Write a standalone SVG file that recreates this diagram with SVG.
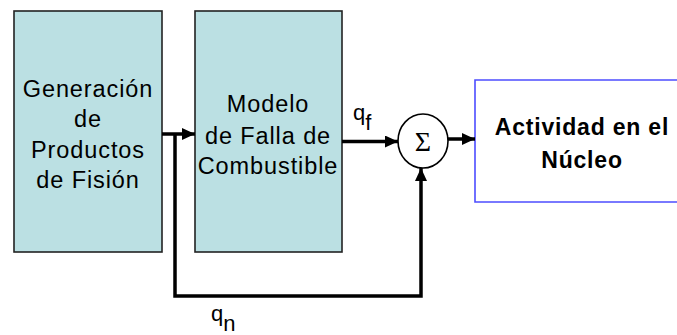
<svg xmlns="http://www.w3.org/2000/svg" width="677" height="335" viewBox="0 0 677 335">
<style>
.blk{fill:#bbe0e3;stroke:#222;stroke-width:1.6}
.t{font-family:"Liberation Sans",Arial,sans-serif;font-size:23.5px;fill:#000;text-anchor:middle;letter-spacing:0.9px}
.tb{font-family:"Liberation Sans",Arial,sans-serif;font-size:23px;font-weight:bold;fill:#000;text-anchor:middle;letter-spacing:0.8px}
.lbl{font-family:"Liberation Sans",Arial,sans-serif;font-size:22px;fill:#000}
.c{fill:none;stroke:#000;stroke-width:3.5}
</style>
<defs>
<marker id="ah" markerUnits="userSpaceOnUse" markerWidth="13" markerHeight="12" refX="13" refY="6" orient="auto">
<path d="M0,0 L13,6 L0,12 Z" fill="#000"/>
</marker>
</defs>
<rect width="677" height="335" fill="#fff"/>
<g id="gen">
<rect class="blk" x="14" y="11" width="148" height="241"/>
<text class="t" x="88" y="97">Generación</text>
<text class="t" x="88" y="127">de</text>
<text class="t" x="88" y="158">Productos</text>
<text class="t" x="88" y="188">de Fisión</text>
</g>
<g id="modelo">
<rect class="blk" x="195" y="11" width="147" height="241"/>
<text class="t" x="268" y="112">Modelo</text>
<text class="t" x="268" y="144">de Falla de</text>
<text class="t" x="268" y="174">Combustible</text>
</g>
<g id="suma">
<ellipse cx="423" cy="141" rx="25" ry="27" fill="#fff" stroke="#000" stroke-width="1.6"/>
<text x="423" y="151" font-family="'Liberation Serif','Times New Roman',serif" font-size="28" text-anchor="middle">Σ</text>
</g>
<g id="nucleo">
<path d="M680,80 H475 V202 H680" fill="#fff" stroke="#4d4dff" stroke-width="1.6"/>
<text class="tb" x="582" y="135">Actividad en el</text>
<text class="tb" x="582" y="168">Núcleo</text>
</g>
<g id="connectors">
<line class="c" x1="162" y1="134" x2="195" y2="134" marker-end="url(#ah)"/>
<polyline class="c" points="175,134 175,296 421,296 421,168" marker-end="url(#ah)"/>
<line class="c" x1="342" y1="141.5" x2="398" y2="141.5" marker-end="url(#ah)"/>
<line class="c" x1="448" y1="139" x2="475" y2="139" marker-end="url(#ah)"/>
</g>
<g id="labels">
<text class="lbl" x="353" y="120">q<tspan dy="10">f</tspan></text>
<text class="lbl" x="211" y="321">q<tspan dy="10">n</tspan></text>
</g>
</svg>
